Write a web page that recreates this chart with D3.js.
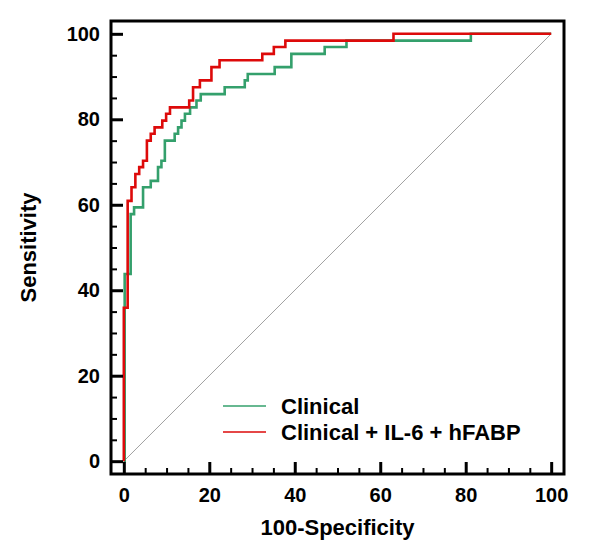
<!DOCTYPE html>
<html>
<head>
<meta charset="utf-8">
<script src="https://cdn.jsdelivr.net/npm/d3@7"></script>
<style>
  html, body { margin: 0; padding: 0; background: #fff; }
  svg { display: block; }
  text { font-family: "Liberation Sans", Arial, sans-serif; font-weight: bold; fill: #000; }
</style>
</head>
<body>
<svg id="chart" width="600" height="553"></svg>
<script>
// ---- data ----
const seriesNames = ["Clinical", "Clinical + IL-6 + hFABP"];
const seriesColors = ["#34a06c", "#dd0a0a"];
// ROC points (100-Specificity, Sensitivity); drawn as step curve
const clinicalX = [0, 0.2, 1.6, 2.4, 4.5, 6.3, 8.0, 8.8, 9.6, 11.9, 12.7, 13.5, 14.3, 15.5, 17.0, 18.0, 23.6, 28.3, 29.0, 35.3, 39.2, 47.0, 52.1, 81.2, 100];
const clinicalY = [0, 43.8, 57.8, 59.4, 64.1, 65.6, 68.8, 70.3, 75.0, 76.6, 78.1, 79.7, 81.3, 82.8, 84.4, 85.9, 87.5, 89.1, 90.6, 92.2, 95.3, 96.9, 98.4, 100, 100];
const combinedX = [0, 0, 0.9, 1.8, 2.7, 3.6, 4.5, 5.4, 6.3, 7.2, 9.0, 9.9, 10.8, 15.3, 16.2, 17.8, 20.5, 22.4, 32.4, 35.1, 37.8, 63.1, 100];
const combinedY = [0, 35.9, 60.9, 64.1, 67.2, 68.8, 70.3, 75.0, 76.6, 78.1, 79.7, 81.3, 82.8, 84.4, 87.5, 89.1, 92.2, 93.8, 95.3, 96.9, 98.4, 100, 100];
const majorTicks = [0, 20, 40, 60, 80, 100];
const minorTicks = [5, 10, 15, 25, 30, 35, 45, 50, 55, 65, 70, 75, 85, 90, 95];
const xTitle = "100-Specificity";
const yTitle = "Sensitivity";

// ---- layout ----
const svg = d3.select("#chart");
const plotLeft = 111, plotTop = 21, plotSize = 453;
const x = d3.scaleLinear().domain([-3, 103]).range([plotLeft, plotLeft + plotSize]);
const y = d3.scaleLinear().domain([-3, 103]).range([plotTop + plotSize, plotTop]);

svg.append("clipPath").attr("id", "clip")
  .append("rect").attr("x", plotLeft).attr("y", plotTop).attr("width", plotSize).attr("height", plotSize);

const plot = svg.append("g").attr("clip-path", "url(#clip)");

// diagonal reference
plot.append("line")
  .attr("x1", x(0)).attr("y1", y(0)).attr("x2", x(100)).attr("y2", y(100))
  .attr("stroke", "#8a8a8a").attr("stroke-width", 0.8);

const line = d3.line().x(d => x(d[0])).y(d => y(d[1])).curve(d3.curveStepAfter);
const series = [
  d3.zip(clinicalX, clinicalY),
  d3.zip(combinedX, combinedY)
];
series.forEach((pts, i) => {
  plot.append("path").attr("d", line(pts))
    .attr("fill", "none").attr("stroke", seriesColors[i])
    .attr("stroke-width", 2.6).attr("stroke-linejoin", "miter");
});

// axes
const fs = 20, fsTitle = 22;
const xAxis = d3.axisBottom(x).tickValues(majorTicks).tickSize(-12).tickPadding(14).tickFormat(d3.format("d"));
const xMinor = d3.axisBottom(x).tickValues(minorTicks).tickSize(-6).tickFormat("");
const yAxis = d3.axisLeft(y).tickValues(majorTicks).tickSize(-12).tickPadding(11).tickFormat(d3.format("d"));
const yMinor = d3.axisLeft(y).tickValues(minorTicks).tickSize(-6).tickFormat("");

function styleAxis(g, w) {
  g.select(".domain").remove();
  g.selectAll("line").attr("stroke", "#000").attr("stroke-width", w);
  g.selectAll("text").attr("font-size", fs).attr("font-family", "Liberation Sans, Arial, sans-serif").attr("font-weight", "bold").attr("fill", "#000");
}
svg.append("g").attr("transform", `translate(0,${plotTop + plotSize})`).call(xAxis).call(g => styleAxis(g, 3));
svg.append("g").attr("transform", `translate(0,${plotTop + plotSize})`).call(xMinor).call(g => styleAxis(g, 2));
svg.append("g").attr("transform", `translate(${plotLeft},0)`).call(yAxis).call(g => styleAxis(g, 3));
svg.append("g").attr("transform", `translate(${plotLeft},0)`).call(yMinor).call(g => styleAxis(g, 2));

// frame
svg.append("rect").attr("x", plotLeft).attr("y", plotTop).attr("width", plotSize).attr("height", plotSize)
  .attr("fill", "none").attr("stroke", "#000").attr("stroke-width", 3);

// titles
svg.append("text").attr("x", plotLeft + plotSize / 2).attr("y", 535).attr("text-anchor", "middle")
  .attr("font-size", fsTitle).text(xTitle);
svg.append("text").attr("transform", `translate(36,${plotTop + plotSize / 2}) rotate(-90)`)
  .attr("text-anchor", "middle").attr("font-size", fsTitle).text(yTitle);

// legend
const legY = [406, 432];
seriesNames.forEach((name, i) => {
  svg.append("line").attr("x1", 223).attr("x2", 266).attr("y1", legY[i]).attr("y2", legY[i])
    .attr("stroke", seriesColors[i]).attr("stroke-width", 1.5);
  svg.append("text").attr("x", 281).attr("y", legY[i] + 7.5).attr("font-size", fsTitle).text(name);
});
</script>
</body>
</html>
